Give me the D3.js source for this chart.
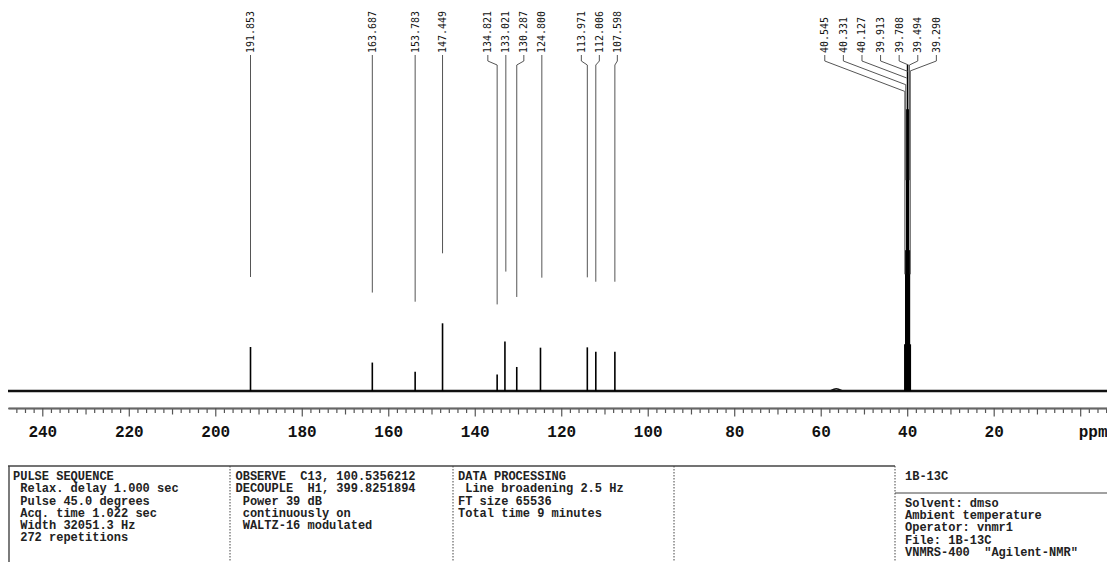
<!DOCTYPE html>
<html>
<head>
<meta charset="utf-8">
<script src="https://cdn.jsdelivr.net/npm/d3@7"></script>
<style>
    body { margin: 0; background: #fff; }
    svg { display: block; }
    .panel text { font-family: "Liberation Mono", "Courier New", monospace; font-weight: bold; font-size: 12px; fill: #222; white-space: pre; }
    .plabel { font-family: "DejaVu Sans Mono", monospace; font-size: 10px; fill: #111; }
    .axis text { font-family: "Liberation Mono", "Courier New", monospace; font-weight: bold; font-size: 16px; fill: #111; }
</style>
</head>
<body>
<div id="chart"></div>
<script>
// sample peaks (ppm) and heights, relative to 147.449 = 100
const peakPpm = [191.853, 163.687, 153.783, 147.449, 134.821, 133.021, 130.287, 124.800, 113.971, 112.006, 107.598];
const peakHeight = [65, 42, 28.5, 100, 24.5, 73, 35.5, 64, 64.5, 58, 58];

// dmso septet
const solventPpm = [40.545, 40.331, 40.127, 39.913, 39.708, 39.494, 39.290];
const solventHeight = [69, 208, 416, 482, 416, 208, 69];

// small broad hump near 56 ppm
const humpPpm = [57.8, 56.4, 55.0];
const humpHeight = [0, 5, 0];

const majorTicks = [240, 220, 200, 180, 160, 140, 120, 100, 80, 60, 40, 20, 0];

const pulseLines = ["PULSE SEQUENCE", " Relax. delay 1.000 sec", " Pulse 45.0 degrees", " Acq. time 1.022 sec", " Width 32051.3 Hz", " 272 repetitions"];
const observeLines = ["OBSERVE  C13, 100.5356212", "DECOUPLE  H1, 399.8251894", " Power 39 dB", " continuously on", " WALTZ-16 modulated"];
const processLines = ["DATA PROCESSING", " Line broadening 2.5 Hz", "FT size 65536", "Total time 9 minutes"];
const sampleName = "1B-13C";
const sampleLines = ["Solvent: dmso", "Ambient temperature", "Operator: vnmr1", "File: 1B-13C", "VNMRS-400  \"Agilent-NMR\""];

const width = 1107, height = 562;
const svg = d3.select("#chart").append("svg")
    .attr("width", width)
    .attr("height", height);

const x = d3.scaleLinear().domain([247.93, -6.2]).range([8, 1107]);
const y = d3.scaleLinear().domain([0, 100]).range([391, 323.3]);

// baseline (noisy band drawn as a thick line)
svg.append("line")
    .attr("x1", x(247.93)).attr("x2", x(-6.2))
    .attr("y1", y(0)).attr("y2", y(0))
    .attr("stroke", "#111").attr("stroke-width", 2.6);

svg.append("path")
    .datum(humpPpm.map((p, i) => [p, humpHeight[i]]))
    .attr("fill", "none").attr("stroke", "#111").attr("stroke-width", 1.6)
    .attr("d", d3.line().x(d => x(d[0])).y(d => y(d[1])).curve(d3.curveBasis));

// peaks
const allPeaks = peakPpm.map((p, i) => ({ ppm: p, h: peakHeight[i], solvent: false }))
    .concat(solventPpm.map((p, i) => ({ ppm: p, h: solventHeight[i], solvent: true })));

svg.selectAll(".peak")
    .data(allPeaks)
    .enter().append("line")
    .attr("class", "peak")
    .attr("x1", d => x(d.ppm)).attr("x2", d => x(d.ppm))
    .attr("y1", y(0)).attr("y2", d => y(d.h))
    .attr("stroke", "#000").attr("stroke-width", 1.6);

// spread labels so they don't overlap
function spreadLabels(xs, gap) {
    let clusters = xs.map(v => ({ sum: v, n: 1, start: v }));
    let merged = true;
    while (merged) {
        merged = false;
        for (let i = 0; i < clusters.length - 1; i++) {
            const a = clusters[i], b = clusters[i + 1];
            const aEnd = a.start + (a.n - 1) * gap;
            if (b.start - aEnd < gap) {
                const n = a.n + b.n;
                const sum = a.sum + b.sum;
                // centre of the cluster sits on the mean of its peaks
                const start = sum / n - (n - 1) * gap / 2;
                clusters.splice(i, 2, { sum, n, start });
                merged = true;
                break;
            }
        }
    }
    const out = [];
    clusters.forEach(c => { for (let k = 0; k < c.n; k++) out.push(c.start + k * gap); });
    return out;
}

const sortedPeaks = allPeaks.slice().sort((a, b) => x(a.ppm) - x(b.ppm));
const sampleSorted = sortedPeaks.filter(d => !d.solvent);
const solventSorted = sortedPeaks.filter(d => d.solvent);
spreadLabels(sampleSorted.map(d => x(d.ppm)), 18).forEach((lx, i) => sampleSorted[i].lx = lx);
spreadLabels(solventSorted.map(d => x(d.ppm)), 18.6).forEach((lx, i) => solventSorted[i].lx = lx - 27);

const labelBase = 53;
function connector(d) {
    const px = x(d.ppm);
    const dx = px - d.lx;
    const top = labelBase + 2;
    const bend = 61;
    let diagEnd = bend;
    let path = `M${d.lx},${top}`;
    if (Math.abs(dx) > 1.5) {
        diagEnd = bend + Math.max(4, 0.38 * Math.abs(dx));
        path += `V${bend}L${px},${diagEnd}`;
    }
    const end = Math.max(diagEnd, y(d.h) - 70);
    path += `V${end}`;
    return path;
}

svg.selectAll(".pline")
    .data(sortedPeaks)
    .enter().append("path")
    .attr("class", "pline")
    .attr("fill", "none")
    .attr("stroke", "#555")
    .attr("stroke-width", 1)
    .attr("d", connector);

svg.selectAll(".plabel")
    .data(sortedPeaks)
    .enter().append("text")
    .attr("class", "plabel")
    .attr("transform", d => `translate(${d.lx},${labelBase}) rotate(-90)`)
    .attr("dy", "0.35em")
    .text(d => d.ppm.toFixed(3));

// ppm axis
const axisG = svg.append("g").attr("class", "axis").attr("transform", "translate(0,408)");
const minorVals = d3.range(-6, 248, 2).filter(v => v % 10 !== 0);
const midVals = d3.range(-10, 248, 10).filter(v => v % 20 !== 0);

axisG.append("g").call(d3.axisBottom(x).tickValues(minorVals).tickSize(5).tickSizeOuter(0).tickFormat(""));
axisG.append("g").call(d3.axisBottom(x).tickValues(midVals).tickSize(6.5).tickSizeOuter(0).tickFormat(""));
const major = axisG.append("g").call(d3.axisBottom(x).tickValues(majorTicks).tickSize(8.5).tickSizeOuter(0)
    .tickPadding(9)
    .tickFormat(d => d === 0 ? "ppm" : d));
axisG.selectAll("path.domain").attr("stroke", "#666").attr("stroke-width", 1.3);
axisG.selectAll(".tick line").attr("stroke", "#555").attr("stroke-width", 1.2);
major.selectAll(".tick text").filter(d => d === 0).attr("text-anchor", "start").attr("x", -2);

// parameter panels
const panel = svg.append("g").attr("class", "panel");
const lineGap = 12.2;
const firstY = 476;

panel.append("line").attr("x1", 8).attr("x2", 895).attr("y1", 466).attr("y2", 466)
    .attr("stroke", "#444").attr("stroke-width", 1.4);
panel.append("line").attr("x1", 9).attr("x2", 9).attr("y1", 466).attr("y2", height)
    .attr("stroke", "#444").attr("stroke-width", 1.4);
[230, 453, 674, 895].forEach(sx => {
    panel.append("line").attr("x1", sx).attr("x2", sx).attr("y1", 466).attr("y2", height)
        .attr("stroke", "#444").attr("stroke-width", 1).attr("stroke-dasharray", "1.5,1.5");
});
panel.append("line").attr("x1", 895).attr("x2", width).attr("y1", 493).attr("y2", 493)
    .attr("stroke", "#444").attr("stroke-width", 1.2);

function writeLines(lines, tx, ty) {
    panel.selectAll(null)
        .data(lines)
        .enter().append("text")
        .attr("x", tx)
        .attr("y", (d, i) => ty + i * lineGap)
        .attr("dy", "0.35em")
        .text(d => d);
}
writeLines(pulseLines, 13, firstY);
writeLines(observeLines, 235.5, firstY);
writeLines(processLines, 458, firstY);
writeLines([sampleName], 905, firstY);
writeLines(sampleLines, 905, 502.7);
</script>
</body>
</html>
